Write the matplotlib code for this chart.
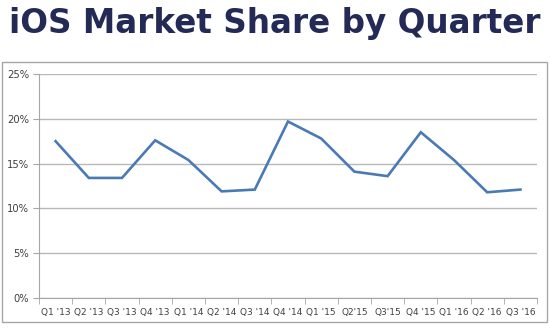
import matplotlib.pyplot as plt
from matplotlib.patches import Rectangle
from matplotlib.ticker import FuncFormatter, MultipleLocator

# Quarterly iOS share (%)
quarters = ["Q1 '13", "Q2 '13", "Q3 '13", "Q4 '13", "Q1 '14", "Q2 '14", "Q3 '14",
            "Q4 '14", "Q1 '15", "Q2'15", "Q3'15", "Q4 '15", "Q1 '16", "Q2 '16", "Q3 '16"]
share = [17.5, 13.4, 13.4, 17.6, 15.4, 11.9, 12.1, 19.7, 17.8, 14.1, 13.6, 18.5, 15.4, 11.8, 12.1]

W, H = 550, 335
fig = plt.figure(figsize=(W / 100, H / 100), dpi=100)
fig.patch.set_facecolor("white")

# title
fig.text(275 / W, 1 - 23 / H, "iOS Market Share by Quarter", ha="center", va="center",
         fontsize=23.5, fontweight="bold", color="#232a56", family="DejaVu Sans")

# chart border
fig.add_artist(Rectangle((2 / W, 1 - 322 / H), 545 / W, 260 / H, transform=fig.transFigure,
                         fill=False, edgecolor="#a6a6a6", linewidth=1.0))

ax = fig.add_axes([39 / W, 1 - 298 / H, (537 - 39) / W, (298 - 74) / H])
x = list(range(len(quarters)))
ax.plot(x, share, color="#4a7ab4", linewidth=1.9, solid_joinstyle="miter")

ax.set_xlim(-0.5, len(quarters) - 0.5)
ax.set_ylim(0, 25)
ax.yaxis.set_major_locator(MultipleLocator(5))
ax.yaxis.set_major_formatter(FuncFormatter(lambda v, p: f"{v:.0f}%"))
ax.grid(axis="y", color="#b8b8b8", linewidth=1.0)
ax.set_axisbelow(True)

ax.set_xticks(x)
ax.set_xticklabels(quarters)
ax.set_xticks([i - 0.5 for i in range(len(quarters) + 1)], minor=True)
ax.tick_params(axis="x", which="major", length=0, pad=7, labelsize=6.5, colors="#404040")
ax.tick_params(axis="x", which="minor", length=4, color="#a6a6a6", direction="out")
ax.tick_params(axis="y", length=4, color="#a6a6a6", labelsize=7.2, colors="#404040", pad=3)

for s in ["top", "right"]:
    ax.spines[s].set_visible(False)
ax.spines["left"].set_color("#a6a6a6")
ax.spines["bottom"].set_color("#a6a6a6")

fig.savefig("out.png", dpi=100)
